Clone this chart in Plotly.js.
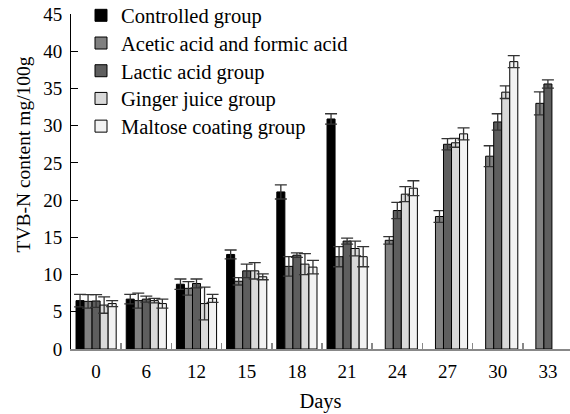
<!DOCTYPE html>
<html>
<head>
<meta charset="utf-8">
<script src="https://cdn.plot.ly/plotly-3.0.1.min.js"></script>
<style>html,body{margin:0;padding:0;background:#fff;}#chart{width:570px;height:414px;}</style>
</head>
<body>
<div id="chart"></div>
<script>
var days = ['0','6','12','15','18','21','24','27','30','33'];
var seriesNames = ['Controlled group','Acetic acid and formic acid','Lactic acid group','Ginger juice group','Maltose coating group'];
var controlled    = [6.5, 6.7, 8.7, 12.7, 21.1, 30.9, null, null, null, null];
var controlledErr = [0.85, 0.65, 0.7, 0.6, 0.95, 0.7, null, null, null, null];
var acetic        = [6.4, 6.5, 8.15, 9.1, 11.1, 12.4, 14.6, 17.8, 25.9, 33.0];
var aceticErr     = [0.9, 1.0, 0.9, 0.5, 1.3, 1.35, 0.5, 0.8, 1.4, 1.55];
var lactic        = [6.45, 6.7, 8.8, 10.5, 12.6, 14.5, 18.6, 27.5, 30.5, 35.6];
var lacticErr     = [0.85, 0.4, 0.6, 0.9, 0.3, 0.4, 1.1, 0.75, 1.1, 0.55];
var ginger        = [5.9, 6.5, 6.1, 10.5, 11.4, 13.5, 20.8, 27.7, 34.5, null];
var gingerErr     = [1.1, 0.3, 2.2, 1.1, 1.4, 1.0, 1.0, 0.6, 0.85, null];
var maltose       = [6.1, 6.1, 6.8, 9.7, 11.0, 12.4, 21.6, 28.9, 38.6, null];
var maltoseErr    = [0.4, 0.6, 0.55, 0.4, 0.9, 1.35, 1.0, 0.8, 0.8, null];

var values = [controlled, acetic, lactic, ginger, maltose];
var errs = [controlledErr, aceticErr, lacticErr, gingerErr, maltoseErr];
var colors = ['#000000', '#808080', '#5e5e5e', '#d9d9d9', '#f2f2f2'];
var legendIds = ['legend', 'legend2', 'legend3', 'legend4', 'legend5'];

var traces = values.map(function(v, i){
  return {
    type: 'bar',
    name: seriesNames[i],
    legend: legendIds[i],
    x: days,
    y: v,
    marker: {color: colors[i], line: {color: '#000', width: 1}},
    error_y: {type: 'data', array: errs[i], visible: true, color: '#333', thickness: 1.3, width: 6}
  };
});

var font = 'Liberation Serif, Times New Roman, serif';
var mL = 71, mT = 14, mB = 65, H = 414, W = 570;
var plotH = H - mT - mB, plotW = W - mL;

var layout = {
  width: W, height: H,
  margin: {l: mL, r: 0, t: mT, b: mB, autoexpand: false},
  paper_bgcolor: '#fff', plot_bgcolor: '#fff',
  barmode: 'group', bargap: 0.2, bargroupgap: 0,
  font: {family: font, size: 19, color: '#000'},
  showlegend: true,
  xaxis: {
    type: 'category', range: [-0.5, 9.44],
    showline: true, linecolor: '#888', linewidth: 1.5,
    ticks: 'inside', tickson: 'boundaries', ticklen: 6, tickcolor: '#888', tickwidth: 1.5,
    showgrid: false, zeroline: false, ticklabelstandoff: 5,
    tickfont: {family: font, size: 19, color: '#000'},
    title: {text: 'Days', font: {family: font, size: 20.5, color: '#000'}, standoff: 12}
  },
  yaxis: {
    range: [0, 45], dtick: 5, tick0: 0,
    showline: true, linecolor: '#000', linewidth: 1,
    ticks: 'inside', ticklen: 7, tickcolor: '#000', tickwidth: 1,
    showgrid: false, zeroline: false, ticklabelstandoff: 4,
    tickfont: {family: font, size: 19, color: '#000'}
  },
  annotations: [{
    text: 'TVB-N content mg/100g', textangle: -90, showarrow: false,
    xref: 'paper', yref: 'paper',
    x: (22.5 - mL) / plotW, y: (H - mB - 155) / plotH,
    xanchor: 'center', yanchor: 'middle',
    font: {family: font, size: 19.5, color: '#000'}
  }]
};

// one legend box per series so the rows sit where the reference has them
var rowY = [15.5, 43.2, 70.9, 98.6, 126.3];
legendIds.forEach(function(id, i){
  layout[id] = {
    xref: 'container', yref: 'container',
    x: 81 / W, xanchor: 'left',
    y: 1 - rowY[i] / H, yanchor: 'middle',
    bgcolor: 'rgba(0,0,0,0)', borderwidth: 0,
    font: {family: font, size: 20.5, color: '#000'}
  };
});

Plotly.newPlot('chart', traces, layout, {staticPlot: true, displayModeBar: false});
</script>
</body>
</html>
